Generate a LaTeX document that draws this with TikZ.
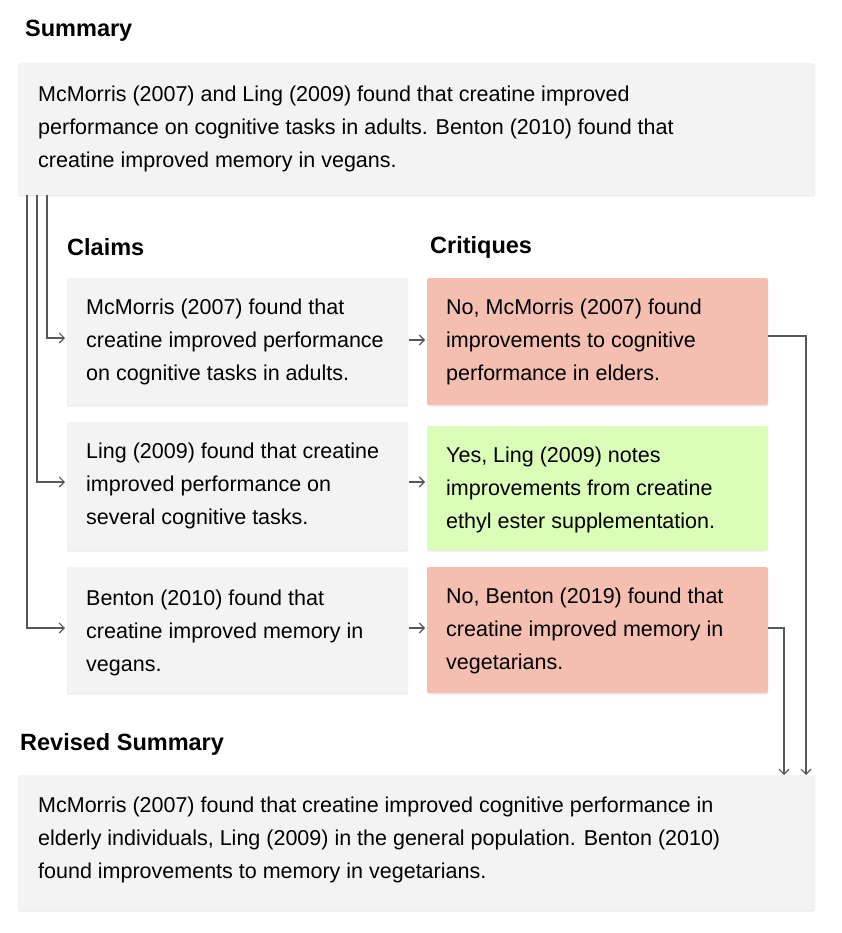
\documentclass[tikz,border=0pt]{standalone}
\usepackage{fontspec}
\setmainfont{Liberation Sans}
\usetikzlibrary{arrows.meta,shadows}
\definecolor{boxgray}{HTML}{F3F3F3}
\definecolor{boxred}{HTML}{F4BFB0}
\definecolor{boxgreen}{HTML}{DAFDB8}
\definecolor{linegray}{HTML}{585858}
\begin{document}
\begin{tikzpicture}[x=1pt,y=-1pt,
  card/.style={draw=none,rounded corners=2pt,drop shadow={shadow xshift=0pt,shadow yshift=-1.5pt,opacity=0.15}},
  txt/.style={anchor=north west,align=left,font=\fontsize{21.5}{33}\selectfont,inner sep=0pt},
  head/.style={anchor=west,font=\fontsize{23.5}{28}\selectfont\bfseries,inner sep=0pt},
  conn/.style={draw=linegray,line width=1.2pt,-{Straight Barb[length=5pt,width=10pt]}}]
\useasboundingbox (0,0) rectangle (842,933);
\fill[white] (0,0) rectangle (842,933);
\node[head] (hsum) at (25,31) {Summary};
\fill[boxgray,card] (18,63) rectangle (815,195);
\node[txt] (sum) at (38,86) {McMorris (2007) and Ling (2009) found that creatine improved\\performance on cognitive tasks in adults. Benton (2010) found that\\creatine improved memory in vegans.};
\node[head] (hcl) at (67,247) {Claims};
\node[head] (hcr) at (430,247) {Critiques};
\fill[boxgray,card] (67,278) rectangle (408,405);
\fill[boxgray,card] (67,422) rectangle (408,550);
\fill[boxgray,card] (67,567) rectangle (408,693);
\fill[boxred,card] (427,278) rectangle (768,405);
\fill[boxgreen,card] (427,426) rectangle (768,550);
\fill[boxred,card] (427,567) rectangle (768,693);
\node[txt] (c1) at (86,299) {McMorris (2007) found that\\creatine improved performance\\on cognitive tasks in adults.};
\node[txt] (c2) at (86,443) {Ling (2009) found that creatine\\improved performance on\\several cognitive tasks.};
\node[txt] (c3) at (86,590) {Benton (2010) found that\\creatine improved memory in\\vegans.};
\node[txt] (k1) at (446,299) {No, McMorris (2007) found\\improvements to cognitive\\performance in elders.};
\node[txt] (k2) at (446,447) {Yes, Ling (2009) notes\\improvements from creatine\\ethyl ester supplementation.};
\node[txt] (k3) at (446,588) {No, Benton (2019) found that\\creatine improved memory in\\vegetarians.};
\node[head] (hrev) at (20,744) {Revised Summary};
\fill[boxgray,card] (18,775) rectangle (815,910);
\node[txt] (rev) at (38,797) {McMorris (2007) found that creatine improved cognitive performance in\\elderly individuals, Ling (2009) in the general population. Benton (2010)\\found improvements to memory in vegetarians.};
\coordinate (s1) at (47,195); \coordinate (s2) at (37,195); \coordinate (s3) at (27,195);
\coordinate (t1) at (65,338); \coordinate (t2) at (65,482); \coordinate (t3) at (65,628);
\draw[conn] (s1) |- (t1);
\draw[conn] (s2) |- (t2);
\draw[conn] (s3) |- (t3);
\coordinate (a1) at (409,340); \coordinate (b1) at (425,340);
\coordinate (a2) at (409,482); \coordinate (b2) at (425,482);
\coordinate (a3) at (409,628); \coordinate (b3) at (425,628);
\draw[conn] (a1) -- (b1);
\draw[conn] (a2) -- (b2);
\draw[conn] (a3) -- (b3);
\coordinate (e1) at (768,336); \coordinate (f1) at (806,775);
\coordinate (e3) at (768,628); \coordinate (f3) at (784,775);
\draw[conn] (e1) -| (f1);
\draw[conn] (e3) -| (f3);
\end{tikzpicture}
\end{document}
